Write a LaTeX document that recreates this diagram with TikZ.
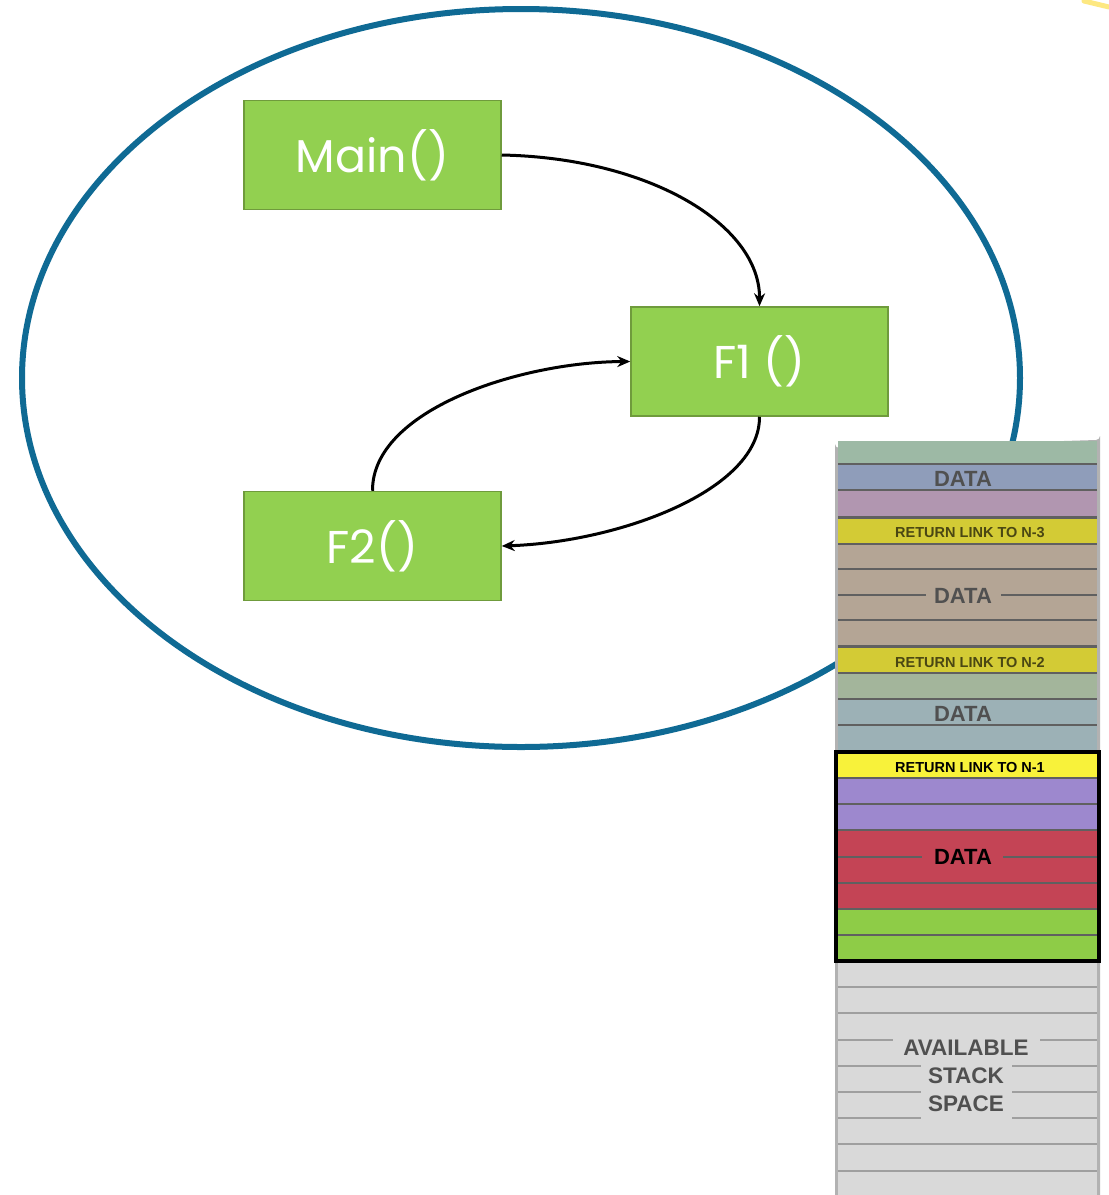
\documentclass[tikz,border=0pt]{standalone}
\usepackage{fontspec}
\setmainfont{Liberation Sans}
\newfontfamily\fnfont{Poppins}
\definecolor{ringblue}{HTML}{0F6A94}
\definecolor{fngreen}{HTML}{92D050}
\definecolor{fnedge}{HTML}{6F9B3C}
\definecolor{sepgray}{HTML}{606060}
\definecolor{labgray}{HTML}{505050}
\definecolor{rA}{HTML}{9DB9A5}
\definecolor{rB}{HTML}{8F9DBA}
\definecolor{rC}{HTML}{B196B0}
\definecolor{rY}{HTML}{D3CB35}
\definecolor{rT}{HTML}{B4A595}
\definecolor{rG}{HTML}{A3B59B}
\definecolor{rS}{HTML}{9CB1B6}
\definecolor{rY1}{HTML}{F8F23A}
\definecolor{rP}{HTML}{9D88CE}
\definecolor{rR}{HTML}{C44455}
\definecolor{rGr}{HTML}{8ECC47}
\definecolor{rFree}{HTML}{D9D9D9}
\tikzset{
  fnbox/.style={draw=fnedge, line width=1.5pt, fill=fngreen, minimum width=257pt,
    minimum height=109pt, inner sep=0pt, text=white, font=\fnfont\fontsize{46}{50}\selectfont},
  call/.style={line width=3pt, -{Stealth[length=13pt,width=11pt]}},
  biglabel/.style={font=\bfseries\fontsize{22}{24}\selectfont, text=labgray, inner sep=3pt},
  linklabel/.style={font=\bfseries\fontsize{14.5}{16}\selectfont, inner sep=0pt},
  rowsep/.style={draw=sepgray, line width=1.6pt},
}
\usetikzlibrary{arrows.meta}
\begin{document}
\begin{tikzpicture}[x=1pt,y=-1pt]
\useasboundingbox (0,0) rectangle (1109,1195);
\fill[white] (0,0) rectangle (1109,1195);

% faint glow in the top right corner
\draw[yellow!70!orange, line width=5pt, opacity=0.5, line cap=round] (1084,1) -- (1109,7);

% scope ring
\draw[ringblue, line width=6pt] (521,378) ellipse [x radius=499, y radius=369];

% function boxes
\node[fnbox] (main) at (372.5,155) {Main()};
\node[fnbox] (f1) at (759.5,361.5) {F1 ()};
\node[fnbox] (f2) at (372.5,546) {F2()};

% calls
\draw[call] (main.east) .. controls (650,158) and (760,225) .. (f1.north);
\draw[call] (f1.south) .. controls (760,490) and (620,542) .. (f2.east);
\draw[call] (f2.north) .. controls (372,410) and (520,362) .. (f1.west);

% ---------------- call stack ----------------
% outer frame
\fill[gray!60] (835,1195) -- (835,444) arc[start angle=180,end angle=90,radius=4] -- (1096,440)
  arc[start angle=90,end angle=0,radius=4] -- (1100,1195) -- cycle;
% rows: top/bottom/colour
\foreach \ya/\yb/\c in {441/464/rA, 464/490/rB, 490/516/rC, 518/544/rY, 544/569/rT, 569/595/rT,
  595/620/rT, 620/645/rT, 647/673/rY, 673/699/rG, 699/725/rS, 725/751/rS,
  752/778/rY1, 778/804/rP, 804/830/rP, 830/857/rR, 857/883/rR, 883/909/rR,
  909/935/rGr, 935/961/rGr, 962/1195/rFree}
  \fill[\c] (838,\ya) rectangle (1097,\yb);
% row separators
\foreach \y in {464,490,544,569,620,673,699,725,778,804,830,883,909,935}
  \draw[rowsep] (838,\y) -- (1097,\y);
\draw[sepgray, line width=3pt] (838,517) -- (1097,517);
\draw[sepgray, line width=3pt] (838,646) -- (1097,646);
\foreach \y in {987,1013,1144,1171}
  \draw[gray!75, line width=1.6pt] (838,\y) -- (1097,\y);
% split separators behind labels
\draw[rowsep] (838,595) -- (926,595) (1001,595) -- (1097,595);
\draw[rowsep] (838,857) -- (922,857) (1003,857) -- (1097,857);
\draw[gray!75, line width=1.6pt] (838,1040) -- (893,1040) (1040,1040) -- (1097,1040);
\foreach \y in {1066,1092,1118}
  \draw[gray!75, line width=1.6pt] (838,\y) -- (921,\y) (1012,\y) -- (1097,\y);

% current frame
\draw[black, line width=4pt] (836,752) rectangle (1099,961);

% stack labels
\node[biglabel] (d3) at (963,479) {DATA};
\node[linklabel, text=rY!35!black] (l3) at (970,533) {RETURN LINK TO N-3};
\node[biglabel] (d2) at (963,596) {DATA};
\node[linklabel, text=rY!35!black] (l2) at (970,662) {RETURN LINK TO N-2};
\node[biglabel] (d1) at (963,714) {DATA};
\node[linklabel, text=black] (l1) at (970,767) {RETURN LINK TO N-1};
\node[biglabel, text=black] (d0) at (963,857) {DATA};
\node[biglabel, align=center, font=\bfseries\fontsize{22.5}{28}\selectfont] (free) at (966,1076)
  {AVAILABLE\\STACK\\SPACE};
\end{tikzpicture}
\end{document}
